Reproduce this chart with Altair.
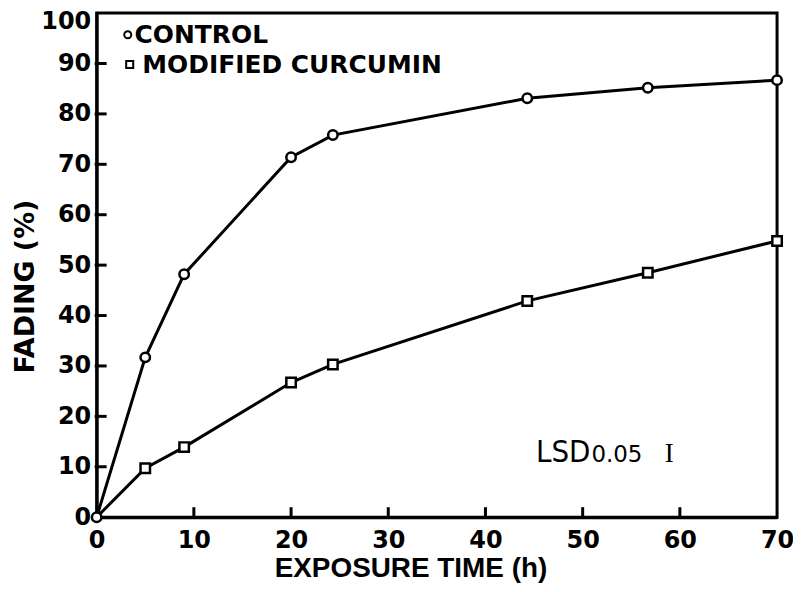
import altair as alt
import pandas as pd

# ---- data ----
times = [0, 5, 9, 20, 24.3, 44.3, 56.7, 70]
control = [0, 31.7, 48.2, 71.4, 75.8, 83.1, 85.2, 86.7]
modified = [0, 9.7, 13.9, 26.7, 30.3, 42.9, 48.5, 54.8]
series_names = ["CONTROL", "MODIFIED CURCUMIN"]
series_shapes = ["circle", "square"]
x_tick_values = [0, 10, 20, 30, 40, 50, 60, 70]
y_tick_values = [0, 10, 20, 30, 40, 50, 60, 70, 80, 90, 100]
inner_x_ticks = [10, 20, 30, 40, 50, 60]
inner_y_ticks = [10, 20, 30, 40, 50, 60, 70, 80, 90]
lsd_label = ["LSD"]
lsd_sub = ["0.05"]
lsd_bar = ["I"]

rows = []
for name, vals in zip(series_names, [control, modified]):
    for t, v in zip(times, vals):
        rows.append({"time": t, "fading": v, "series": name})
df = pd.DataFrame(rows)

W, H = 683, 506
xs = alt.Scale(domain=[0, 70], nice=False, zero=True)
ys = alt.Scale(domain=[0, 100], nice=False, zero=True)
shape_scale = alt.Scale(domain=series_names, range=series_shapes)

x_axis = alt.Axis(
    values=x_tick_values, title="EXPOSURE TIME (h)", tickSize=0, grid=False,
    domainWidth=3, domainColor="black",
    labelFont="DejaVu Sans", labelFontWeight="bold", labelFontSize=24,
    labelColor="black", labelPadding=11, labelFlush=False,
    titleFont="Liberation Sans", titleFontWeight="bold", titleFontSize=28,
    titleColor="black", titleX=315, titleY=38, titleBaseline="top", titleAlign="center",
)
y_axis = alt.Axis(
    values=y_tick_values, title="FADING (%)", tickSize=0, grid=False,
    domainWidth=3, domainColor="black",
    labelFont="DejaVu Sans", labelFontWeight="bold", labelFontSize=24,
    labelColor="black", labelPadding=6, labelFlush=False,
    labelOffset={"condition": {"test": "datum.value == 100", "value": 8}, "value": 0},
    titleFont="DejaVu Sans", titleFontWeight="bold", titleFontSize=27,
    titleColor="black", titleAngle=270, titleX=-71, titleY=274,
    titleAlign="center", titleBaseline="middle",
)

X = lambda: alt.X("time:Q", scale=xs, axis=x_axis)
Y = lambda: alt.Y("fading:Q", scale=ys, axis=y_axis)

base = alt.Chart(df)

lines = base.mark_line(color="black", strokeWidth=3).encode(
    x=X(), y=Y(), detail="series:N",
)

points = base.transform_filter(
    "datum.series == 'CONTROL' || datum.time > 0"
).mark_point(filled=True, fill="white", stroke="black", strokeWidth=2.5, opacity=1, size=90).encode(
    x=X(), y=Y(),
    shape=alt.Shape("series:N", scale=shape_scale, legend=None),
)

ytick_df = pd.DataFrame({"fading": inner_y_ticks})
yticks = alt.Chart(ytick_df).mark_rule(color="black", strokeWidth=3).encode(
    y=Y(), x=alt.value(-2), x2=alt.value(10),
)
xtick_df = pd.DataFrame({"time": inner_x_ticks})
xticks = alt.Chart(xtick_df).mark_rule(color="black", strokeWidth=3).encode(
    x=X(), y=alt.value(H + 1), y2=alt.value(H - 10),
)

# legend (manual, placed in data space)
leg_sym_df = pd.DataFrame({"series": series_names, "time": [3.2, 3.4], "fading": [95.7, 89.8]})
leg_syms = alt.Chart(leg_sym_df).mark_point(
    filled=True, fill="white", stroke="black", strokeWidth=2, opacity=1, size=50
).encode(x=X(), y=Y(), shape=alt.Shape("series:N", scale=shape_scale, legend=None))
leg_txt_df = pd.DataFrame({"series": series_names, "time": [3.9, 4.7], "fading": [95.6, 89.6]})
leg_txt = alt.Chart(leg_txt_df).mark_text(
    font="DejaVu Sans", fontWeight="bold", fontSize=25, align="left", baseline="middle",
    color="black",
).encode(x=X(), y=Y(), text="series:N")

lsd1 = alt.Chart(pd.DataFrame({"label": lsd_label, "time": [45.2], "fading": [10.9]})).mark_text(
    font="DejaVu Sans Condensed, Liberation Sans Narrow, Liberation Sans",
    fontSize=31, align="left", baseline="alphabetic", color="black",
).encode(x=X(), y=Y(), text="label:N")
lsd2 = alt.Chart(pd.DataFrame({"label": lsd_sub, "time": [50.9], "fading": [10.9]})).mark_text(
    font="DejaVu Sans", fontSize=23, align="left", baseline="alphabetic", color="black",
).encode(x=X(), y=Y(), text="label:N")
lsd3 = alt.Chart(pd.DataFrame({"label": lsd_bar, "time": [58.9], "fading": [10.9]})).mark_text(
    font="Liberation Serif", fontSize=27, align="center", baseline="alphabetic", color="black",
).encode(x=X(), y=Y(), text="label:N")

chart = alt.layer(lines, xticks, yticks, points, leg_syms, leg_txt, lsd1, lsd2, lsd3).properties(
    width=W, height=H,
    autosize=alt.AutoSizeParams(type="none"),
    padding={"left": 89, "top": 4, "right": 16, "bottom": 72},
    background="white",
).configure_view(stroke="black", strokeWidth=3)

chart.save("out.html", embed_options={"renderer": "svg", "actions": False})
